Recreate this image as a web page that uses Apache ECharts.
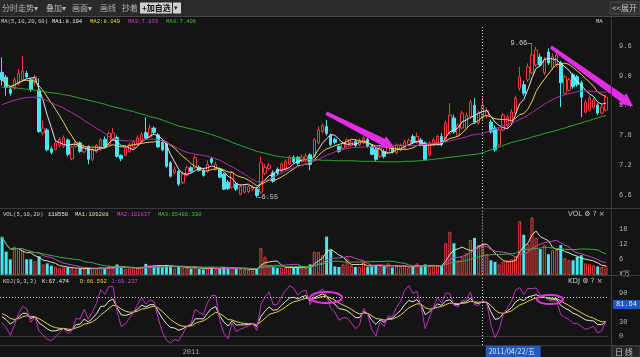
<!DOCTYPE html>
<html><head><meta charset="utf-8">
<script src="https://cdn.jsdelivr.net/npm/echarts@6/dist/echarts.min.js"></script>
<style>html,body{margin:0;padding:0;background:#141414;overflow:hidden}#c{width:640px;height:357px;}</style>
</head><body><div id="c"></div>
<script>
// ---------- data ----------
const opens = [9.07,8.97,8.73,8.75,8.84,8.92,9.05,8.92,8.86,8.71,
 7.85,7.91,7.53,7.52,7.60,7.58,7.71,7.33,7.58,7.65,
 7.47,7.58,7.32,7.48,7.52,7.72,7.62,7.72,7.76,7.40,
 7.40,7.48,7.55,7.62,7.68,7.86,7.77,7.95,7.81,7.66,
 7.63,7.25,7.06,7.08,6.85,7.00,7.15,7.15,7.16,7.10,
 7.08,7.33,7.12,7.12,7.02,6.86,6.76,6.82,6.62,6.66,
 6.67,6.72,6.72,6.66,7.04,7.13,7.05,7.12,7.08,7.12,
 7.22,7.36,7.36,7.28,7.29,7.41,7.38,7.65,7.88,7.98,
 7.80,7.72,7.58,7.54,7.57,7.60,7.68,7.61,7.65,7.72,
 7.58,7.52,7.38,7.48,7.46,7.56,7.45,7.51,7.55,7.62,
 7.78,7.66,7.71,7.65,7.41,7.61,7.62,7.78,7.71,7.85,
 8.15,7.81,7.95,7.95,8.17,8.41,8.05,8.15,8.20,8.07,
 7.95,7.61,7.91,7.99,8.07,8.25,8.75,8.82,8.92,9.06,
 9.22,9.38,9.06,9.48,9.16,9.22,9.26,8.65,8.71,9.02,
 8.98,8.86,8.27,8.31,8.37,8.41,8.25,8.31];
const closes = [8.92,8.77,8.65,8.92,9.05,9.10,8.98,8.72,8.98,7.88,
 7.95,7.51,7.46,7.65,7.72,7.75,7.42,7.57,7.66,7.48,
 7.58,7.32,7.52,7.60,7.71,7.58,7.84,7.85,7.38,7.33,
 7.55,7.62,7.67,7.75,7.82,7.75,7.95,7.86,7.57,7.51,
 7.18,6.98,7.12,6.82,7.04,7.15,7.08,7.35,7.10,7.00,
 7.22,7.26,7.22,6.96,6.72,6.73,7.05,6.72,6.78,6.78,
 6.77,6.76,6.59,7.25,7.16,7.20,6.88,7.04,7.22,7.28,
 7.36,7.27,7.24,7.37,7.38,7.22,7.71,7.91,8.00,7.84,
 7.62,7.66,7.48,7.64,7.71,7.67,7.60,7.70,7.75,7.58,
 7.42,7.32,7.55,7.38,7.56,7.47,7.61,7.60,7.67,7.70,
 7.66,7.78,7.61,7.32,7.65,7.71,7.78,7.62,8.05,8.21,
 7.87,8.01,8.25,8.21,8.47,8.07,8.25,8.41,8.30,7.87,
 7.51,7.91,8.21,8.17,8.27,8.55,8.98,8.65,9.18,9.42,
 9.52,9.22,9.32,9.26,9.38,9.42,8.86,8.98,8.92,8.78,
 8.82,8.57,8.47,8.55,8.51,8.25,8.37,8.57];
const lows = [8.80,8.60,8.60,8.72,8.80,8.88,8.95,8.68,8.80,7.85,
 7.80,7.48,7.42,7.50,7.56,7.55,7.38,7.30,7.55,7.45,
 7.44,7.22,7.28,7.45,7.50,7.55,7.60,7.70,7.35,7.28,
 7.38,7.45,7.52,7.60,7.65,7.72,7.75,7.82,7.55,7.48,
 7.15,6.95,7.02,6.78,6.82,6.97,7.05,7.12,7.07,6.97,
 7.05,7.22,7.10,6.94,6.70,6.70,6.73,6.68,6.60,6.63,
 6.64,6.68,6.55,6.62,7.00,7.10,6.85,7.00,7.05,7.10,
 7.20,7.24,7.20,7.25,7.26,7.10,7.35,7.62,7.84,7.80,
 7.58,7.62,7.45,7.50,7.55,7.57,7.57,7.58,7.62,7.55,
 7.40,7.28,7.35,7.34,7.43,7.44,7.42,7.48,7.52,7.58,
 7.62,7.63,7.58,7.30,7.38,7.58,7.60,7.58,7.68,7.82,
 7.84,7.78,7.92,7.92,8.14,8.03,8.02,8.10,8.15,7.84,
 7.47,7.58,7.88,7.95,8.04,8.22,8.70,8.60,8.88,9.02,
 9.18,9.18,9.02,9.22,9.12,9.18,8.37,8.62,8.68,8.74,
 8.78,8.17,8.24,8.28,8.33,8.21,8.22,8.28];
const highs = [9.37,9.02,8.80,8.97,9.14,9.40,9.10,8.95,9.02,8.95,
 8.10,7.95,7.58,7.68,7.76,7.80,7.74,7.60,7.70,7.68,
 7.62,7.60,7.55,7.63,7.75,7.78,7.88,7.95,7.80,7.42,
 7.58,7.65,7.70,7.80,7.86,8.17,8.02,7.98,7.85,7.70,
 7.66,7.28,7.18,7.10,7.08,7.20,7.18,7.40,7.20,7.14,
 7.30,7.36,7.27,7.15,7.05,6.90,7.08,6.86,6.82,6.82,
 6.80,6.80,6.76,7.38,7.22,7.25,7.10,7.16,7.26,7.32,
 7.40,7.40,7.38,7.42,7.44,7.44,7.75,7.98,8.04,8.11,
 7.84,7.76,7.62,7.68,7.74,7.72,7.72,7.74,7.80,7.75,
 7.62,7.55,7.58,7.52,7.60,7.60,7.64,7.64,7.71,7.74,
 7.82,7.86,7.75,7.68,7.68,7.75,7.82,7.85,8.10,8.45,
 8.22,8.05,8.30,8.26,8.52,8.55,8.30,8.57,8.36,8.12,
 8.00,7.95,8.25,8.22,8.33,8.60,9.18,8.90,9.25,9.66,
 9.58,9.45,9.38,9.55,9.45,9.48,9.30,9.02,8.96,9.06,
 9.02,8.90,8.52,8.60,8.56,8.45,8.42,8.62];
// volume, in 万 (10k lots)
const volumes = [14.8,9.0,6.0,10.9,10.5,9.5,6.0,6.0,5.2,7.2,
 4.0,4.4,3.5,3.0,2.5,2.8,2.9,2.5,2.0,2.4,
 2.2,2.8,2.6,2.2,2.8,2.4,3.2,2.6,4.0,3.0,
 2.2,2.4,2.6,2.8,3.0,4.2,3.6,3.4,3.4,3.0,
 3.8,3.6,2.4,3.0,2.6,2.8,2.2,3.2,2.2,2.0,
 2.4,2.9,2.0,2.6,3.0,2.4,2.6,2.2,2.2,2.0,
 1.8,1.6,2.2,10.5,7.0,3.5,3.0,2.6,2.6,2.8,
 3.0,2.8,2.6,2.4,2.6,4.0,9.0,8.9,7.6,14.9,
 9.6,3.2,3.0,4.0,6.2,3.5,3.0,3.0,4.9,3.0,
 3.2,3.6,3.4,3.0,4.4,2.8,3.4,2.8,3.6,2.8,
 3.0,4.4,3.0,4.0,3.5,3.2,3.6,3.4,12.3,16.8,
 12.3,5.6,7.0,8.4,13.6,14.4,11.6,11.9,8.0,5.6,
 5.0,4.0,5.0,5.6,6.0,7.0,20.9,15.6,12.0,22.4,
 14.4,10.0,11.6,8.0,9.6,9.6,11.6,6.4,5.6,5.6,
 7.0,7.6,4.4,4.0,3.6,3.2,3.0,3.4];
// MA20 and MA60 lines
const ma20 = [8.42,8.45,8.48,8.51,8.53,8.55,8.56,8.57,8.57,8.56,
 8.53,8.50,8.46,8.42,8.39,8.35,8.30,8.26,8.21,8.16,
 8.10,8.05,8.00,7.94,7.90,7.84,7.78,7.74,7.72,7.70,
 7.69,7.69,7.69,7.69,7.70,7.72,7.73,7.72,7.71,7.69,
 7.66,7.62,7.58,7.53,7.49,7.46,7.44,7.42,7.41,7.40,
 7.38,7.36,7.33,7.30,7.26,7.21,7.17,7.12,7.07,7.02,
 6.97,6.91,6.87,6.87,6.89,6.92,6.96,7.00,7.04,7.08,
 7.12,7.15,7.17,7.20,7.23,7.26,7.29,7.32,7.36,7.40,
 7.43,7.47,7.50,7.52,7.54,7.55,7.56,7.56,7.57,7.57,
 7.57,7.57,7.58,7.58,7.59,7.60,7.60,7.61,7.60,7.60,
 7.59,7.60,7.61,7.62,7.63,7.64,7.65,7.66,7.67,7.69,
 7.71,7.73,7.75,7.77,7.80,7.82,7.83,7.83,7.87,7.90,
 7.93,7.96,7.99,8.02,8.05,8.08,8.12,8.16,8.21,8.26,
 8.32,8.37,8.43,8.48,8.52,8.56,8.59,8.62,8.64,8.66,
 8.68,8.69,8.69,8.69,8.68,8.68,8.67,8.67];
const ma60 = [8.77,8.77,8.76,8.76,8.75,8.74,8.73,8.72,8.71,8.70,
 8.68,8.67,8.66,8.65,8.64,8.62,8.61,8.59,8.57,8.55,
 8.53,8.51,8.49,8.47,8.45,8.43,8.40,8.38,8.36,8.34,
 8.32,8.30,8.28,8.25,8.23,8.21,8.18,8.16,8.14,8.11,
 8.08,8.05,8.02,7.99,7.97,7.95,7.93,7.91,7.89,7.87,
 7.84,7.82,7.79,7.76,7.73,7.70,7.66,7.63,7.60,7.57,
 7.54,7.51,7.48,7.46,7.44,7.42,7.40,7.38,7.37,7.36,
 7.35,7.34,7.33,7.32,7.32,7.31,7.31,7.31,7.30,7.30,
 7.30,7.29,7.29,7.29,7.29,7.29,7.29,7.28,7.28,7.28,
 7.28,7.28,7.27,7.27,7.27,7.27,7.27,7.27,7.28,7.28,
 7.28,7.29,7.29,7.30,7.31,7.32,7.33,7.34,7.35,7.36,
 7.37,7.38,7.39,7.40,7.41,7.42,7.43,7.45,7.48,7.51,
 7.54,7.57,7.60,7.63,7.66,7.68,7.70,7.72,7.74,7.77,
 7.79,7.81,7.84,7.86,7.88,7.90,7.93,7.95,7.98,8.00,
 8.03,8.05,8.08,8.10,8.13,8.15,8.18,8.20];

const priceTicks = [6.6, 7.2, 7.8, 8.4, 9.0, 9.6];
const volTicks = [0, 6, 12, 18];
const kdjTicks = [0, 30, 60, 90];
const yearMarks = {46: '2011'};
const crossIdx = 117, crossDate = '2011/04/22/五', crossKdj = 81.64;
const highMark = {idx: 129, price: 9.66};
const lowMark = {idx: 62, price: 6.55};
const arrows = [{from: [78.9, 8.25], to: [95.6, 7.55]}, {from: [133.6, 9.58], to: [153.6, 8.39]}];
const kdjRings = [{at: [78.9, 80.5], rx: 16, ry: 5.5}, {at: [133.4, 76.4], rx: 13, ry: 4.5}];

// ---------- derived indicators ----------
const N = closes.length;
const cats = closes.map((_, i) => String(i));
function movAvg(arr, n) {
  return arr.map((_, i) => { const s = Math.max(0, i - n + 1); let t = 0; for (let k = s; k <= i; k++) t += arr[k]; return +(t / (i - s + 1)).toFixed(3); });
}
const ma5 = movAvg(closes, 5), ma10 = movAvg(closes, 10);
const vma5 = movAvg(volumes, 5), vma10 = movAvg(volumes, 10), vma20 = movAvg(volumes, 20);
const Ks = [], Ds = [], Js = [];
(function () {
  let K = 50, D = 50;
  for (let i = 0; i < N; i++) {
    const s = Math.max(0, i - 8); let lo = Infinity, hi = -Infinity;
    for (let k = s; k <= i; k++) { lo = Math.min(lo, lows[k]); hi = Math.max(hi, highs[k]); }
    const rsv = hi > lo ? (closes[i] - lo) / (hi - lo) * 100 : 50;
    K = (2 * K + rsv) / 3; D = (2 * D + K) / 3;
    Ks.push(+K.toFixed(2)); Ds.push(+D.toFixed(2)); Js.push(+(3 * K - 2 * D).toFixed(2));
  }
})();

const UP = '#f03c3c', DOWN = '#4ce4ee', BG = '#141414';
const MONO = 'Liberation Mono', CJK = 'Noto Sans CJK SC';
const candleData = closes.map((c, i) => [opens[i], c, lows[i], highs[i]]);
const volData = volumes.map((v, i) => closes[i] >= opens[i]
  ? {value: v, itemStyle: {color: BG, borderColor: UP, borderWidth: 1}}
  : {value: v, itemStyle: {color: DOWN}});

const crossLine = {silent: true, symbol: ['none', 'none'], label: {show: false},
  lineStyle: {color: '#d8d8d8', type: [1, 2], width: 1}, data: [{xAxis: crossIdx}]};

function xAx(g) {
  return {type: 'category', gridIndex: g, data: cats, boundaryGap: true,
    axisLine: {show: true, lineStyle: {color: '#3a3a3a'}}, axisTick: {show: false}, splitLine: {show: false},
    axisLabel: g === 2 ? {show: true, interval: (idx) => yearMarks[idx] !== undefined,
      formatter: (v, idx) => yearMarks[idx] || '', color: '#a8a8a8', fontSize: 7, fontFamily: MONO, margin: 4} : {show: false}};
}
function yAx(g, min, max, ticks, fmt) {
  return {type: 'value', gridIndex: g, position: 'right', offset: 3, min: min, max: max,
    splitLine: {show: false}, axisTick: {show: false}, axisLine: {show: true, lineStyle: {color: '#3a3a3a'}},
    axisLabel: {customValues: ticks, formatter: fmt, color: '#b4b4b4', fontSize: 7, fontFamily: MONO, margin: 8}};
}
const line = (name, data, color, x, y) => ({name, type: 'line', data, xAxisIndex: x, yAxisIndex: y,
  symbol: 'none', smooth: false, lineStyle: {width: 1, color}, itemStyle: {color}, silent: true, z: 3});

const option = {
  backgroundColor: BG,
  animation: false,
  grid: [
    {left: 0, width: 608, top: 25, height: 183},
    {left: 0, width: 608, top: 208, height: 66.6},
    {left: 0, width: 608, top: 277, height: 68}
  ],
  xAxis: [xAx(0), xAx(1), xAx(2)],
  yAxis: [
    yAx(0, 9.6 - (208 - 46) / 49.7, 9.6 + (46 - 25) / 49.7, priceTicks, v => v.toFixed(1)),
    yAx(1, 0, 66.6 / 2.55, volTicks, v => v === 0 ? 'X万' : String(v)),
    yAx(2, -(345 - 336) / 0.478, (336 - 277) / 0.478, kdjTicks, v => String(v))
  ],
  series: [
    {type: 'candlestick', data: candleData, xAxisIndex: 0, yAxisIndex: 0, barWidth: 3,
      itemStyle: {color: BG, color0: DOWN, borderColor: UP, borderColor0: DOWN, borderWidth: 1}, z: 2,
      markLine: crossLine,
      markPoint: {symbol: 'circle', symbolSize: 1, itemStyle: {color: 'rgba(0,0,0,0)'}, silent: true,
        label: {show: true, color: '#cfcfcf', fontSize: 7, fontFamily: MONO},
        data: [
          {coord: [String(highMark.idx), highMark.price], label: {formatter: highMark.price.toFixed(2) + '—', position: 'left', distance: 0}},
          {coord: [String(lowMark.idx), lowMark.price], label: {formatter: '—' + lowMark.price.toFixed(2), position: 'right', distance: 0}}
        ]}},
    line('MA5', ma5, '#e8e8e8', 0, 0),
    line('MA10', ma10, '#e8d24a', 0, 0),
    line('MA20', ma20, '#b02cb0', 0, 0),
    line('MA60', ma60, '#2ea62e', 0, 0),
    {type: 'bar', data: volData, xAxisIndex: 1, yAxisIndex: 1, barWidth: 3, silent: true, markLine: crossLine},
    line('VMA5', vma5, '#e8dfae', 1, 1),
    line('VMA10', vma10, '#c848c8', 1, 1),
    line('VMA20', vma20, '#3eae3e', 1, 1),
    Object.assign(line('K', Ks, '#e8e8e8', 2, 2), {markLine: {silent: true, symbol: ['none', 'none'], label: {show: false},
      lineStyle: {color: '#d8d8d8', type: [1, 2], width: 1}, data: [{xAxis: crossIdx}, {yAxis: crossKdj}]}}),
    line('D', Ds, '#e8d24a', 2, 2),
    line('J', Js, '#c030c0', 2, 2)
  ]
};

const chart = echarts.init(document.getElementById('c'), null, {renderer: 'canvas'});
chart.setOption(option);

// ---------- annotations positioned through the chart's own scales ----------
function toPx(g, i, v) {
  const a = chart.convertToPixel({gridIndex: g}, ['0', v]);
  const b = chart.convertToPixel({gridIndex: g}, ['1', v]);
  return [a[0] + (b[0] - a[0]) * i, a[1]];
}
function arrowPoly(a, b, sw, hl, hw) {
  const dx = b[0] - a[0], dy = b[1] - a[1], L = Math.hypot(dx, dy);
  const ux = dx / L, uy = dy / L, nx = -uy, ny = ux;
  const bx = b[0] - ux * hl, by = b[1] - uy * hl;
  return [[a[0] + nx * sw * 0.5, a[1] + ny * sw * 0.5], [bx + nx * sw, by + ny * sw], [bx + nx * hw, by + ny * hw], [b[0], b[1]],
    [bx - nx * hw, by - ny * hw], [bx - nx * sw, by - ny * sw], [a[0] - nx * sw * 0.5, a[1] - ny * sw * 0.5]];
}
function ringPoly(c, rx, ry) {
  const pts = []; for (let k = 0; k < 36; k++) { const t = k / 36 * Math.PI * 2; pts.push([c[0] + rx * Math.cos(t), c[1] + ry * Math.sin(t)]); } return pts;
}
const T = (text, x, y, fill, font, extra) => Object.assign({type: 'text', x, y, silent: true, z: 50,
  style: {text, fill, font: font || ('5.6px ' + MONO), verticalAlign: 'middle'}}, extra || {});
const G = [];
// toolbar
G.push({type: 'rect', shape: {x: 0, y: 0, width: 640, height: 16}, style: {fill: '#2a2a2a'}, silent: true, z: 40});
G.push({type: 'line', shape: {x1: 0, y1: 16.5, x2: 640, y2: 16.5}, style: {stroke: '#474747', lineWidth: 1}, silent: true, z: 41});
const tb = [['分时走势▾', 2], ['叠加▾', 46], ['画面▾', 72], ['画线', 100], ['抄着', 122]];
tb.forEach(t => G.push(T(t[0], t[1], 8, '#b4b4b4', '8px "' + CJK + '"')));
G.push({type: 'rect', shape: {x: 140, y: 2.5, width: 32, height: 11}, style: {fill: '#d2d2d2'}, silent: true, z: 45});
G.push(T('+加自选', 142, 8, '#111', 'bold 8px "' + CJK + '"'));
G.push({type: 'rect', shape: {x: 173, y: 2.5, width: 8, height: 11}, style: {fill: '#d2d2d2'}, silent: true, z: 45});
G.push(T('▾', 174, 8, '#222', '7px "DejaVu Sans"'));
G.push({type: 'rect', shape: {x: 610, y: 2, width: 30, height: 12}, style: {fill: '#303030', stroke: '#4a4a4a'}, silent: true, z: 45});
G.push(T('<<展开', 612, 8, '#c4c4c4', '8px "' + CJK + '"'));
// legends
const leg = (items, y) => items.forEach(it => G.push(T(it[0], it[1], y, it[2])));
leg([['MA(5,10,20,60)', 1, '#d0d0d0'], ['MA1:8.194', 52, '#ececec'], ['MA2:8.049', 90, '#e8d24a'],
  ['MA3:7.833', 128, '#d040d0'], ['MA4:7.406', 166, '#3ec03e'], ['MA', 596, '#d0d0d0']], 22);
leg([['VOL(5,10,20)', 3, '#d0d0d0'], ['118550', 48, '#ececec'], ['MA1:109288', 75, '#e8dfae'],
  ['MA2:102837', 117, '#d040d0'], ['MA3:65480.390', 158, '#3ec03e']], 214.5);
leg([['KDJ(9,3,3)', 3, '#d0d0d0'], ['K:67.474', 42, '#ececec'], ['D:66.592', 80, '#e8d24a'],
  ['J:69.237', 111, '#d040d0']], 281.5);
G.push(T('VOL ⚙ ? ×', 568, 214.5, '#c8c8c8', '7px "DejaVu Sans"'));
G.push(T('KDJ ⚙ ? ×', 568, 281.5, '#c8c8c8', '7px "DejaVu Sans"'));
// separators
[[0, 208.5, 640, 208.5], [0, 275.5, 640, 275.5], [0, 345.5, 640, 345.5], [611.5, 16.5, 611.5, 357]].forEach(l =>
  G.push({type: 'line', shape: {x1: l[0], y1: l[1], x2: l[2], y2: l[3]}, style: {stroke: '#3a3a3a', lineWidth: 1}, silent: true, z: 30}));
// arrows and rings
arrows.forEach(a => G.push({type: 'polygon', shape: {points: arrowPoly(toPx(0, a.from[0], a.from[1]), toPx(0, a.to[0], a.to[1]), 3.6, 13, 6.5)},
  style: {fill: '#e22ee2'}, silent: true, z: 20}));
kdjRings.forEach(r => G.push({type: 'polygon', shape: {points: ringPoly(toPx(2, r.at[0], r.at[1]), r.rx, r.ry)},
  style: {fill: 'none', stroke: '#d838d8', lineWidth: 2}, silent: true, z: 20}));
// crosshair labels
const cx = toPx(2, crossIdx, 0)[0];
G.push({type: 'rect', shape: {x: cx + 3, y: 346, width: 55, height: 11}, style: {fill: '#1d5bbf'}, silent: true, z: 45});
G.push(T(crossDate, cx + 6, 351.5, '#e6e6e6', '7px "' + CJK + '"'));
const ky = toPx(2, 0, crossKdj)[1];
G.push({type: 'rect', shape: {x: 613, y: ky + 3, width: 27, height: 9}, style: {fill: '#1d5bbf'}, silent: true, z: 45});
G.push(T(crossKdj.toFixed(2), 616, ky + 7.5, '#e6e6e6', '7px ' + MONO));
G.push({type: 'rect', shape: {x: 612, y: 346, width: 28, height: 11}, style: {fill: '#262626', stroke: '#404040'}, silent: true, z: 45});
G.push(T('日 线', 615, 351.5, '#c8c8c8', '8px "' + CJK + '"'));
chart.setOption({graphic: G});
</script>
</body></html>
